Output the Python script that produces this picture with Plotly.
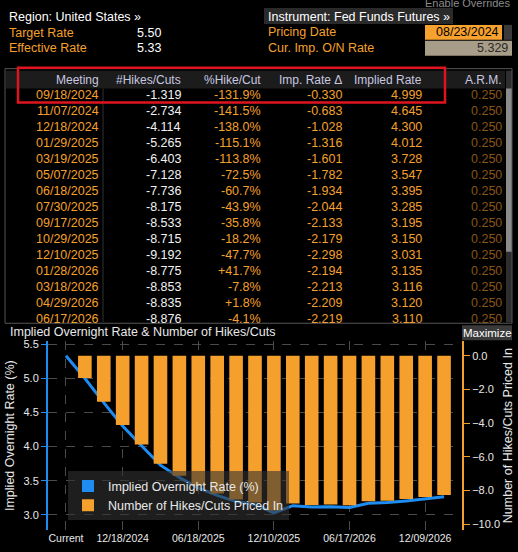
import plotly.graph_objects as go

W, H = 518, 552

# table data
meetings = ["09/18/2024", "11/07/2024", "12/18/2024", "01/29/2025", "03/19/2025", "05/07/2025",
            "06/18/2025", "07/30/2025", "09/17/2025", "10/29/2025", "12/10/2025", "01/28/2026",
            "03/18/2026", "04/29/2026", "06/17/2026"]
hikes_cuts = ["-1.319", "-2.734", "-4.114", "-5.265", "-6.403", "-7.128", "-7.736", "-8.175",
              "-8.533", "-8.715", "-9.192", "-8.775", "-8.853", "-8.835", "-8.876"]
pct_hike = ["-131.9%", "-141.5%", "-138.0%", "-115.1%", "-113.8%", "-72.5%", "-60.7%", "-43.9%",
            "-35.8%", "-18.2%", "-47.7%", "+41.7%", "-7.8%", "+1.8%", "-4.1%"]
imp_delta = ["-0.330", "-0.683", "-1.028", "-1.316", "-1.601", "-1.782", "-1.934", "-2.044",
             "-2.133", "-2.179", "-2.298", "-2.194", "-2.213", "-2.209", "-2.219"]
implied = ["4.999", "4.645", "4.300", "4.012", "3.728", "3.547", "3.395", "3.285",
           "3.195", "3.150", "3.031", "3.135", "3.116", "3.120", "3.110"]
arm = ["0.250"] * 15
headers = ["Meeting", "#Hikes/Cuts", "%Hike/Cut", "Imp. Rate \u0394", "Implied Rate", "A.R.M."]

# chart data (Current + 20 meetings)
chart_rate = [5.329, 4.999, 4.645, 4.300, 4.012, 3.728, 3.547, 3.395, 3.285, 3.195, 3.150,
              3.031, 3.135, 3.116, 3.120, 3.110, 3.17, 3.18, 3.205, 3.235, 3.265]
chart_hikes = [0.0, -1.319, -2.734, -4.114, -5.265, -6.403, -7.128, -7.736, -8.175, -8.533,
               -8.715, -9.192, -8.775, -8.853, -8.835, -8.876, -8.64, -8.60, -8.50, -8.38, -8.26]
tick_idx = [0, 3, 7, 11, 15, 19]
tick_text = ["Current", "12/18/2024", "06/18/2025", "12/10/2025", "06/17/2026", "12/09/2026"]

ORANGE = "#f5a02c"
BLUE = "#1e8cf0"
FONT = "Liberation Sans"


def px(x):
    return x / W


def py(y):
    return 1 - y / H


fig = go.Figure()
xs = list(range(len(chart_rate)))
fig.add_trace(go.Bar(x=xs, y=chart_hikes, base=0, yaxis="y2", width=0.72,
                     marker=dict(color=ORANGE, line_width=0), showlegend=False))
fig.add_trace(go.Scatter(x=xs, y=chart_rate, mode="lines", line=dict(color=BLUE, width=3),
                         showlegend=False))
# legend entries with square swatches
fig.add_trace(go.Scatter(x=[None], y=[None], mode="markers", name="Implied Overnight Rate (%)",
                         marker=dict(symbol="square", size=12, color=BLUE)))
fig.add_trace(go.Scatter(x=[None], y=[None], mode="markers", name="Number of Hikes/Cuts Priced In",
                         marker=dict(symbol="square", size=12, color=ORANGE)))

ann = []
shapes = []


def text(x, y, s, color="white", size=12.5, anchor="left", **kw):
    ann.append(dict(x=px(x), y=py(y), xref="paper", yref="paper", text=s, showarrow=False,
                    xanchor=anchor, yanchor="middle", font=dict(color=color, size=size, family=FONT), **kw))


def rect(x0, y0, x1, y1, fill=None, line=None, lw=1):
    shapes.append(dict(type="rect", xref="paper", yref="paper", x0=px(x0), x1=px(x1), y0=py(y1), y1=py(y0),
                       fillcolor=fill or "rgba(0,0,0,0)", line=dict(color=line or "rgba(0,0,0,0)", width=lw),
                       layer="below" if fill else "above"))


# top info panel
text(512, 0, "Enable Overrides", color="#8a8a8a", size=11, anchor="right")
text(7, 14, "Region: United States \u00bb")
text(7, 30, "Target Rate", color=ORANGE)
text(7, 45, "Effective Rate", color=ORANGE)
text(135, 30, "5.50")
text(135, 45, "5.33")
rect(264, 5, 453, 21, fill="#2a2a2a")
text(266, 14, "Instrument: Fed Funds Futures \u00bb")
text(266, 29, "Pricing Date", color=ORANGE)
text(266, 45, "Cur. Imp. O/N Rate", color=ORANGE)
rect(425, 22, 502, 37, fill="#f7a12e")
text(501, 29.5, "08/23/2024", color="black", anchor="right")
rect(504, 22, 512, 37, fill="#3a3a3a")
rect(425, 38, 512, 53, fill="#a89d88")
text(510, 45.5, "5.329", color="#2a2a2a", anchor="right")

# table
rect(5, 66, 512, 322, line="#555555")
rect(6, 68, 505, 86, fill="#1c1c1c")
rect(506, 68, 512, 321, fill="#2e2e2e")
rect(506, 86, 512, 250, fill="#8a8a8a")
col_right = [101, 183, 263, 344, 424, 504]
for i, h in enumerate(headers):
    text(col_right[i], 77, h, color="#c8c8e0", size=12, anchor="right")
cols = [(meetings, ORANGE), (hikes_cuts, "#f2f2f2"), (pct_hike, ORANGE),
        (imp_delta, ORANGE), (implied, ORANGE), (arm, "#8a5518")]
for r in range(len(meetings)):
    y = 92.5 + r * 16.1
    for c, (vals, col) in enumerate(cols):
        text(col_right[c], y, vals[r], color=col, size=12.5, anchor="right")
shapes.append(dict(type="line", xref="paper", yref="paper", x0=px(103), x1=px(103), y0=py(86), y1=py(321),
                   line=dict(color="#333333", width=1)))
rect(18, 65, 445, 100, line="#e0141e", lw=2.5)

# chart header
text(8, 331, "Implied Overnight Rate & Number of Hikes/Cuts", color="#e8e8e8", size=12.5)
rect(462, 324, 512, 339, fill="#3a3a3a")
text(487, 331.5, "Maximize", color="white", size=11.5, anchor="center")

y0_pix, y1_pix = 340, 530
fig.update_layout(
    width=W, height=H, margin=dict(l=0, r=0, t=0, b=0),
    paper_bgcolor="black", plot_bgcolor="black",
    font=dict(family=FONT, color="white", size=11),
    annotations=ann, shapes=shapes, bargap=0.3,
    xaxis=dict(domain=[px(48), px(462)], range=[-0.95, 20.95], tickvals=tick_idx, ticktext=tick_text,
               showgrid=True, gridcolor="#4a4a4a", griddash="dash", zeroline=False,
               showline=False, ticks="", tickfont=dict(size=10.5, color="#e8e8e8")),
    yaxis=dict(domain=[py(y1_pix), py(y0_pix)], range=[2.777, 5.544], tickvals=[3.0, 3.5, 4.0, 4.5, 5.0, 5.5],
               tickformat=".1f", showgrid=True, gridcolor="#4a4a4a", griddash="dash", zeroline=False,
               showline=True, linecolor=BLUE, linewidth=2, ticks="outside", tickcolor=BLUE, ticklen=5,
               tickfont=dict(size=11, color="#e8e8e8"),
               title=dict(text="Implied Overnight Rate (%)", font=dict(size=12.5, color="#e8e8e8"), standoff=6)),
    yaxis2=dict(overlaying="y", side="right", anchor="x", range=[-10.35, 0.87],
                tickvals=[0, -2, -4, -6, -8, -10], tickformat=".1f", showgrid=False, zeroline=False,
                showline=True, linecolor=ORANGE, linewidth=2, ticks="outside", tickcolor=ORANGE, ticklen=6,
                tickfont=dict(size=11, color="#e8e8e8"),
                title=dict(text="Number of Hikes/Cuts Priced In", font=dict(size=12.5, color="#e8e8e8"), standoff=4)),
    legend=dict(x=px(68), y=py(471), xanchor="left", yanchor="top", bgcolor="rgba(50,50,50,0.6)",
                font=dict(size=12.5, color="#e8e8e8")),
)

fig.write_html("out.html", config={"displayModeBar": False},
               post_script="document.body.style.margin='0';document.body.style.overflow='hidden';")
